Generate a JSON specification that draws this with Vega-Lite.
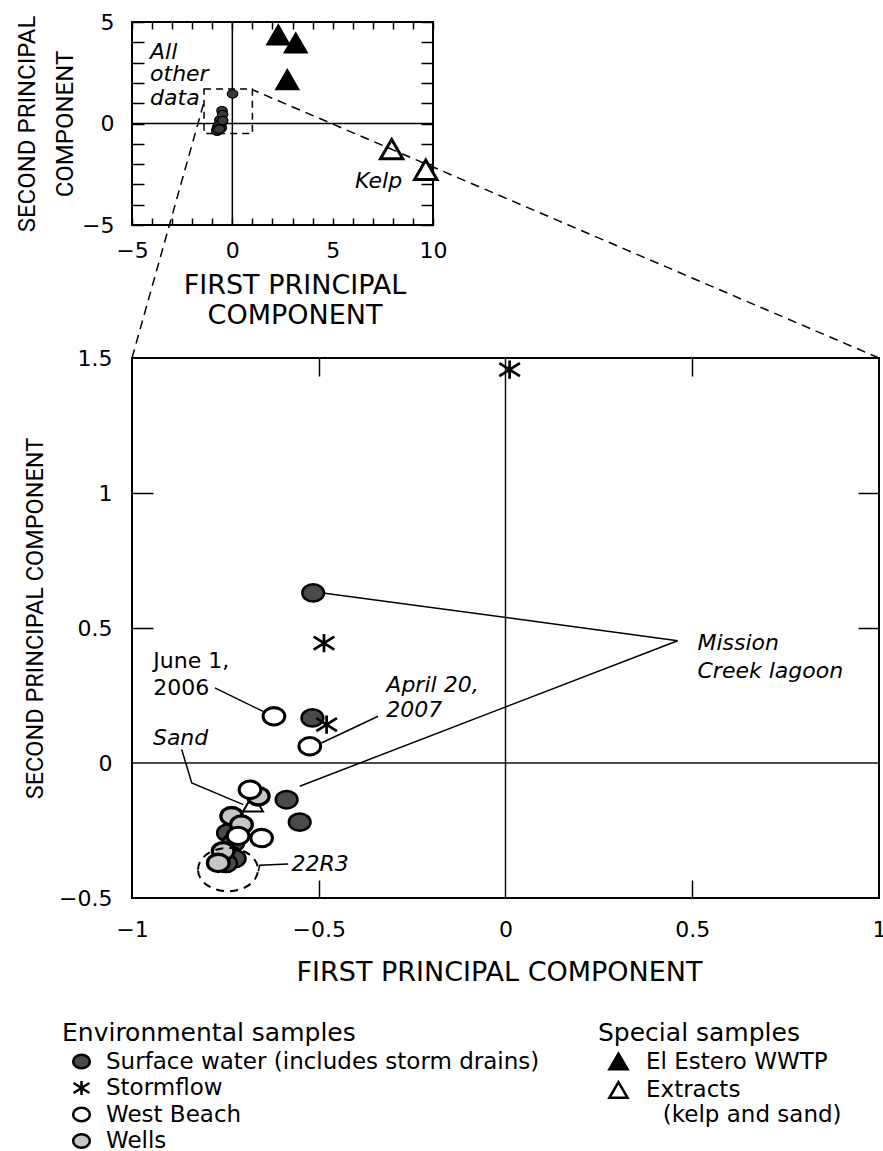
{
  "$schema": "https://vega.github.io/schema/vega-lite/v6.json",
  "background": "white",
  "padding": {"left": 14, "top": 10, "right": 3, "bottom": 0},
  "spacing": 133,
  "bounds": "flush",
  "datasets": {
    "env": [
      {"x": -0.515, "y": 0.630, "type": "Surface water (includes storm drains)"},
      {"x": -0.517, "y": 0.167, "type": "Surface water (includes storm drains)"},
      {"x": -0.586, "y": -0.136, "type": "Surface water (includes storm drains)"},
      {"x": -0.551, "y": -0.219, "type": "Surface water (includes storm drains)"},
      {"x": -0.743, "y": -0.259, "type": "Surface water (includes storm drains)"},
      {"x": -0.729, "y": -0.296, "type": "Surface water (includes storm drains)"},
      {"x": -0.738, "y": -0.339, "type": "Surface water (includes storm drains)"},
      {"x": -0.725, "y": -0.354, "type": "Surface water (includes storm drains)"},
      {"x": -0.748, "y": -0.372, "type": "Surface water (includes storm drains)"},
      {"x": -0.662, "y": -0.123, "type": "Wells"},
      {"x": -0.733, "y": -0.197, "type": "Wells"},
      {"x": -0.707, "y": -0.228, "type": "Wells"},
      {"x": -0.756, "y": -0.327, "type": "Wells"},
      {"x": -0.769, "y": -0.370, "type": "Wells"},
      {"x": -0.620, "y": 0.173, "type": "West Beach"},
      {"x": -0.524, "y": 0.062, "type": "West Beach"},
      {"x": -0.684, "y": -0.099, "type": "West Beach"},
      {"x": -0.716, "y": -0.270, "type": "West Beach"},
      {"x": -0.653, "y": -0.278, "type": "West Beach"},
      {"x": 0.011, "y": 1.457, "type": "Stormflow"},
      {"x": -0.486, "y": 0.444, "type": "Stormflow"},
      {"x": -0.479, "y": 0.142, "type": "Stormflow"}
    ],
    "special": [
      {"x": 2.29, "y": 4.37, "type": "El Estero WWTP"},
      {"x": 3.16, "y": 3.97, "type": "El Estero WWTP"},
      {"x": 2.74, "y": 2.17, "type": "El Estero WWTP"},
      {"x": 7.94, "y": -1.26, "type": "Extracts (kelp and sand)"},
      {"x": 9.64, "y": -2.28, "type": "Extracts (kelp and sand)"},
      {"x": -0.676, "y": -0.148, "type": "Extracts (kelp and sand)"}
    ],
    "leaders": [
      {"id": "june", "seq": 1, "x": -0.778, "y": 0.278},
      {"id": "june", "seq": 2, "x": -0.649, "y": 0.191},
      {"id": "april", "seq": 1, "x": -0.341, "y": 0.173},
      {"id": "april", "seq": 2, "x": -0.493, "y": 0.074},
      {"id": "sand", "seq": 1, "x": -0.867, "y": 0.050},
      {"id": "sand", "seq": 2, "x": -0.840, "y": -0.074},
      {"id": "sand", "seq": 3, "x": -0.702, "y": -0.154},
      {"id": "mission", "seq": 1, "x": -0.489, "y": 0.630},
      {"id": "mission", "seq": 2, "x": 0.461, "y": 0.453},
      {"id": "mission", "seq": 3, "x": -0.551, "y": -0.086},
      {"id": "r22", "seq": 1, "x": -0.662, "y": -0.401},
      {"id": "r22", "seq": 2, "x": -0.658, "y": -0.379},
      {"id": "r22", "seq": 3, "x": -0.582, "y": -0.374}
    ],
    "connectors": [
      {"id": "left", "seq": 1, "x": -1, "y": 1.5},
      {"id": "left", "seq": 2, "x": -0.807, "y": 2.449},
      {"id": "right", "seq": 1, "x": 1, "y": 1.5},
      {"id": "right", "seq": 2, "x": -0.678, "y": 2.494}
    ],
    "labelsNormal": [
      {"x": -0.943, "y": 0.377, "label": "June 1,"},
      {"x": -0.943, "y": 0.278, "label": "2006"}
    ],
    "labelsItalic": [
      {"x": -0.319, "y": 0.290, "label": "April 20,"},
      {"x": -0.319, "y": 0.198, "label": "2007"},
      {"x": -0.944, "y": 0.093, "label": "Sand"},
      {"x": 0.514, "y": 0.444, "label": "Mission"},
      {"x": 0.514, "y": 0.340, "label": "Creek lagoon"},
      {"x": -0.573, "y": -0.374, "label": "22R3"}
    ]
  },
  "vconcat": [
    {
      "width": 301,
      "height": 203,
      "resolve": {"axis": {"x": "independent", "y": "independent"}},
      "layer": [
        {
          "data": {"values": [{"v": 0}]},
          "mark": {"type": "rule", "color": "black", "strokeWidth": 1.5},
          "encoding": {
            "x": {"field": "v", "type": "quantitative", "scale": {"domain": [-5, 10], "nice": false, "zero": false},
              "axis": {"orient": "top", "labels": false, "title": null, "values": [-5,-4,-3,-2,-1,0,1,2,3,4,5,6,7,8,9,10], "tickSize": -7}}
          }
        },
        {
          "data": {"values": [{"v": 0}]},
          "mark": {"type": "rule", "color": "black", "strokeWidth": 1.5},
          "encoding": {
            "y": {"field": "v", "type": "quantitative", "scale": {"domain": [-5, 5], "nice": false, "zero": false},
              "axis": {"orient": "right", "labels": false, "title": null, "values": [-5,-4,-3,-2,-1,0,1,2,3,4,5], "tickSize": -12}}
          }
        },
        {
          "data": {"values": [{"x1": -1.41, "x2": 1.0, "y1": -0.49, "y2": 1.7}]},
          "mark": {"type": "rect", "filled": false, "stroke": "black", "strokeWidth": 1.5, "strokeDash": [7, 5]},
          "encoding": {
            "x": {"field": "x1", "type": "quantitative",
              "axis": {"orient": "bottom", "values": [-5, 0, 5, 10], "ticks": false, "labelPadding": 15, "format": "d",
                "title": ["FIRST PRINCIPAL", "COMPONENT"], "titleFont": "DejaVu Sans", "titleFontSize": 27, "titleLineHeight": 29.5,
                "titleX": 162.5, "titleY": 68.7, "titleBaseline": "alphabetic", "titleAlign": "center", "titleAngle": 0}},
            "x2": {"field": "x2"},
            "y": {"field": "y1", "type": "quantitative",
              "axis": {"orient": "left", "values": [-5, 0, 5], "ticks": false, "labelPadding": 18, "format": "d",
                "title": ["SECOND PRINCIPAL", "COMPONENT"], "titleFont": "Roboto", "titleFontSize": 24, "titleLineHeight": 38,
                "titleAngle": 270, "titleX": -98, "titleY": 101.5, "titleBaseline": "alphabetic", "titleAlign": "center"}},
            "y2": {"field": "y2"}
          }
        },
        {
          "data": {"name": "env"},
          "mark": {"type": "point", "shape": "M-1,0A1,0.8,0,1,1,1,0A1,0.8,0,1,1,-1,0Z", "size": 110, "filled": true, "fill": "#3a3a3a", "stroke": "black", "strokeWidth": 1.2, "opacity": 1},
          "encoding": {
            "x": {"field": "x", "type": "quantitative",
              "axis": {"orient": "bottom", "labels": false, "title": null, "values": [-5,-4,-3,-2,-1,0,1,2,3,4,5,6,7,8,9,10], "tickSize": -7}},
            "y": {"field": "y", "type": "quantitative",
              "axis": {"orient": "left", "labels": false, "title": null, "values": [-5,-4,-3,-2,-1,0,1,2,3,4,5], "tickSize": -12}}
          }
        },
        {
          "data": {"name": "special"},
          "transform": [{"filter": "datum.type == 'El Estero WWTP'"}],
          "mark": {"type": "point", "shape": "triangle-up", "size": 529, "filled": true, "fill": "black", "stroke": "black", "strokeWidth": 1.5, "opacity": 1},
          "encoding": {
            "x": {"field": "x", "type": "quantitative", "axis": null},
            "y": {"field": "y", "type": "quantitative", "axis": null}
          }
        },
        {
          "data": {"name": "special"},
          "transform": [{"filter": "datum.type != 'El Estero WWTP' && datum.x > 1"}],
          "mark": {"type": "point", "shape": "triangle-up", "size": 500, "filled": true, "fill": "white", "stroke": "black", "strokeWidth": 3, "opacity": 1},
          "encoding": {
            "x": {"field": "x", "type": "quantitative", "axis": null},
            "y": {"field": "y", "type": "quantitative", "axis": null}
          }
        },
        {
          "data": {"values": [
            {"x": -4.1, "y": 3.5, "label": "All"},
            {"x": -4.1, "y": 2.44, "label": "other"},
            {"x": -4.1, "y": 1.28, "label": "data"},
            {"x": 6.11, "y": -2.83, "label": "Kelp"}
          ]},
          "mark": {"type": "text", "align": "left", "baseline": "middle", "font": "DejaVu Sans", "fontStyle": "italic", "fontSize": 22, "color": "black"},
          "encoding": {
            "x": {"field": "x", "type": "quantitative", "axis": null},
            "y": {"field": "y", "type": "quantitative", "axis": null},
            "text": {"field": "label"}
          }
        }
      ]
    },
    {
      "width": 747,
      "height": 540,
      "resolve": {"scale": {"shape": "independent", "fill": "independent", "stroke": "independent"}, "axis": {"x": "independent", "y": "independent"}},
      "layer": [
        {
          "data": {"values": [{"v": 0}]},
          "mark": {"type": "rule", "color": "#111111", "strokeWidth": 1.5},
          "encoding": {
            "x": {"field": "v", "type": "quantitative", "scale": {"domain": [-1, 1], "nice": false, "zero": false},
              "axis": {"orient": "top", "labels": false, "title": null, "values": [-0.5, 0.5], "tickSize": -18}}
          }
        },
        {
          "data": {"values": [{"v": 0}]},
          "mark": {"type": "rule", "color": "#111111", "strokeWidth": 1.5},
          "encoding": {
            "y": {"field": "v", "type": "quantitative", "scale": {"domain": [-0.5, 1.5], "nice": false, "zero": false},
              "axis": {"orient": "right", "labels": false, "title": null, "values": [0.5, 1], "tickSize": -21}}
          }
        },
        {
          "data": {"name": "leaders"},
          "mark": {"type": "line", "color": "black", "strokeWidth": 1.5},
          "encoding": {
            "x": {"field": "x", "type": "quantitative",
              "axis": {"orient": "bottom", "labels": false, "title": null, "values": [-0.5, 0.5], "tickSize": -18}},
            "y": {"field": "y", "type": "quantitative",
              "axis": {"orient": "left", "labels": false, "title": null, "values": [0.5, 1], "tickSize": -21}},
            "detail": {"field": "id", "type": "nominal"},
            "order": {"field": "seq", "type": "quantitative"}
          }
        },
        {
          "data": {"name": "special"},
          "transform": [{"filter": "datum.x >= -1 && datum.x <= 1 && datum.y >= -0.5 && datum.y <= 1.5"}],
          "mark": {"type": "point", "filled": true, "strokeWidth": 2, "size": 400, "opacity": 1},
          "encoding": {
            "x": {"field": "x", "type": "quantitative", "axis": null},
            "y": {"field": "y", "type": "quantitative", "axis": null},
            "shape": {"field": "type", "type": "nominal",
              "scale": {"domain": ["El Estero WWTP", "Extracts (kelp and sand)"], "range": ["triangle-up", "triangle-up"]},
              "legend": {"title": "Special samples", "orient": "none", "legendX": 466, "legendY": 663, "padding": 0,
                "titleFont": "DejaVu Sans", "titleFontSize": 25, "titleFontWeight": "normal", "titleColor": "black", "titlePadding": 4, "titleLimit": 1000,
                "labelFont": "DejaVu Sans", "labelFontSize": 23, "labelColor": "black", "labelLimit": 1000, "labelOffset": 16,
                "labelExpr": "datum.label == 'Extracts (kelp and sand)' ? ['Extracts', '\u2800(kelp and sand)'] : datum.label",
                "symbolSize": 330, "symbolStrokeWidth": 2.5, "symbolOffset": 9, "symbolOpacity": 1, "rowPadding": 1.5}},
            "fill": {"field": "type", "type": "nominal",
              "scale": {"domain": ["El Estero WWTP", "Extracts (kelp and sand)"], "range": ["#000000", "#ffffff"]},
              "legend": {"title": "Special samples", "orient": "none", "legendX": 466, "legendY": 663, "padding": 0,
                "titleFont": "DejaVu Sans", "titleFontSize": 25, "titleFontWeight": "normal", "titleColor": "black", "titlePadding": 4, "titleLimit": 1000,
                "labelFont": "DejaVu Sans", "labelFontSize": 23, "labelColor": "black", "labelLimit": 1000, "labelOffset": 16,
                "labelExpr": "datum.label == 'Extracts (kelp and sand)' ? ['Extracts', '\u2800(kelp and sand)'] : datum.label",
                "symbolSize": 330, "symbolStrokeWidth": 2.5, "symbolOffset": 9, "symbolOpacity": 1, "rowPadding": 1.5}},
            "stroke": {"field": "type", "type": "nominal",
              "scale": {"domain": ["El Estero WWTP", "Extracts (kelp and sand)"], "range": ["#000000", "#000000"]},
              "legend": {"title": "Special samples", "orient": "none", "legendX": 466, "legendY": 663, "padding": 0,
                "titleFont": "DejaVu Sans", "titleFontSize": 25, "titleFontWeight": "normal", "titleColor": "black", "titlePadding": 4, "titleLimit": 1000,
                "labelFont": "DejaVu Sans", "labelFontSize": 23, "labelColor": "black", "labelLimit": 1000, "labelOffset": 16,
                "labelExpr": "datum.label == 'Extracts (kelp and sand)' ? ['Extracts', '\u2800(kelp and sand)'] : datum.label",
                "symbolSize": 330, "symbolStrokeWidth": 2.5, "symbolOffset": 9, "symbolOpacity": 1, "rowPadding": 1.5}}
          }
        },
        {
          "data": {"name": "env"},
          "mark": {"type": "point", "filled": true, "size": 470, "opacity": 1},
          "encoding": {
            "x": {"field": "x", "type": "quantitative",
              "axis": {"orient": "bottom", "values": [-1, -0.5, 0, 0.5, 1], "ticks": false, "labelPadding": 21, "format": "~g",
                "title": "FIRST PRINCIPAL COMPONENT", "titleFont": "DejaVu Sans", "titleFontSize": 27,
                "titleX": 367, "titleY": 82, "titleBaseline": "alphabetic", "titleAlign": "center", "titleAngle": 0}},
            "y": {"field": "y", "type": "quantitative",
              "axis": {"orient": "left", "values": [-0.5, 0, 0.5, 1, 1.5], "ticks": false, "labelPadding": 20, "format": "~g",
                "title": "SECOND PRINCIPAL COMPONENT", "titleFont": "Roboto", "titleFontSize": 23.5,
                "titleAngle": 270, "titleX": -89.3, "titleY": 260, "titleBaseline": "alphabetic", "titleAlign": "center"}},
            "strokeWidth": {"field": "type", "type": "nominal",
              "scale": {"domain": ["Surface water (includes storm drains)", "Stormflow", "West Beach", "Wells"], "range": [2.5, 3.3, 2.5, 2.5]},
              "legend": null},
            "shape": {"field": "type", "type": "nominal",
              "scale": {"domain": ["Surface water (includes storm drains)", "Stormflow", "West Beach", "Wells"],
                "range": ["M-1,0A1,0.8,0,1,1,1,0A1,0.8,0,1,1,-1,0Z", "M0,-0.85L0,0.85M-0.95,-0.6L0.95,0.6M-0.95,0.6L0.95,-0.6", "M-1,0A1,0.8,0,1,1,1,0A1,0.8,0,1,1,-1,0Z", "M-1,0A1,0.8,0,1,1,1,0A1,0.8,0,1,1,-1,0Z"]},
              "legend": {"title": "Environmental samples", "orient": "none", "legendX": -70, "legendY": 663, "padding": 0,
                "titleFont": "DejaVu Sans", "titleFontSize": 25, "titleFontWeight": "normal", "titleColor": "black", "titlePadding": 4, "titleLimit": 1000,
                "labelFont": "DejaVu Sans", "labelFontSize": 23, "labelColor": "black", "labelLimit": 1000, "labelOffset": 13,
                "symbolSize": 280, "symbolStrokeWidth": 2.5, "symbolOffset": 8, "symbolOpacity": 1, "rowPadding": 1.5}},
            "fill": {"field": "type", "type": "nominal",
              "scale": {"domain": ["Surface water (includes storm drains)", "Stormflow", "West Beach", "Wells"],
                "range": ["#4a4a4a", "#000000", "#ffffff", "#c6c6c6"]},
              "legend": {"title": "Environmental samples", "orient": "none", "legendX": -70, "legendY": 663, "padding": 0,
                "titleFont": "DejaVu Sans", "titleFontSize": 25, "titleFontWeight": "normal", "titleColor": "black", "titlePadding": 4, "titleLimit": 1000,
                "labelFont": "DejaVu Sans", "labelFontSize": 23, "labelColor": "black", "labelLimit": 1000, "labelOffset": 13,
                "symbolSize": 280, "symbolStrokeWidth": 2.5, "symbolOffset": 8, "symbolOpacity": 1, "rowPadding": 1.5}},
            "stroke": {"field": "type", "type": "nominal",
              "scale": {"domain": ["Surface water (includes storm drains)", "Stormflow", "West Beach", "Wells"],
                "range": ["#000000", "#000000", "#000000", "#000000"]},
              "legend": {"title": "Environmental samples", "orient": "none", "legendX": -70, "legendY": 663, "padding": 0,
                "titleFont": "DejaVu Sans", "titleFontSize": 25, "titleFontWeight": "normal", "titleColor": "black", "titlePadding": 4, "titleLimit": 1000,
                "labelFont": "DejaVu Sans", "labelFontSize": 23, "labelColor": "black", "labelLimit": 1000, "labelOffset": 13,
                "symbolSize": 280, "symbolStrokeWidth": 2.5, "symbolOffset": 8, "symbolOpacity": 1, "rowPadding": 1.5}}
          }
        },
        {
          "data": {"values": [{"x": -0.743, "y": -0.395}]},
          "mark": {"type": "point", "shape": "M-1,0A1,0.72,0,1,1,1,0A1,0.72,0,1,1,-1,0Z", "size": 3600, "filled": false, "stroke": "black", "strokeWidth": 2, "strokeDash": [8, 6], "opacity": 1},
          "encoding": {
            "x": {"field": "x", "type": "quantitative", "axis": null},
            "y": {"field": "y", "type": "quantitative", "axis": null}
          }
        },
        {
          "data": {"name": "labelsNormal"},
          "mark": {"type": "text", "align": "left", "baseline": "middle", "font": "DejaVu Sans", "fontSize": 22, "color": "black"},
          "encoding": {
            "x": {"field": "x", "type": "quantitative", "axis": null},
            "y": {"field": "y", "type": "quantitative", "axis": null},
            "text": {"field": "label"}
          }
        },
        {
          "data": {"name": "labelsItalic"},
          "mark": {"type": "text", "align": "left", "baseline": "middle", "font": "DejaVu Sans", "fontStyle": "italic", "fontSize": 22, "color": "black"},
          "encoding": {
            "x": {"field": "x", "type": "quantitative", "axis": null},
            "y": {"field": "y", "type": "quantitative", "axis": null},
            "text": {"field": "label"}
          }
        },
        {
          "data": {"name": "connectors"},
          "mark": {"type": "line", "color": "black", "strokeWidth": 1.5, "strokeDash": [9, 6]},
          "encoding": {
            "x": {"field": "x", "type": "quantitative", "axis": null},
            "y": {"field": "y", "type": "quantitative", "axis": null},
            "detail": {"field": "id", "type": "nominal"},
            "order": {"field": "seq", "type": "quantitative"}
          }
        }
      ]
    }
  ],
  "config": {
    "view": {"stroke": "black", "strokeWidth": 2},
    "axis": {"grid": false, "domain": false, "labelColor": "black", "tickColor": "black", "titleColor": "black", "titleFontWeight": "normal",
      "labelFont": "DejaVu Sans", "labelFontSize": 22, "tickWidth": 1.5, "labelFlush": false, "labelOverlap": false}
  }
}
